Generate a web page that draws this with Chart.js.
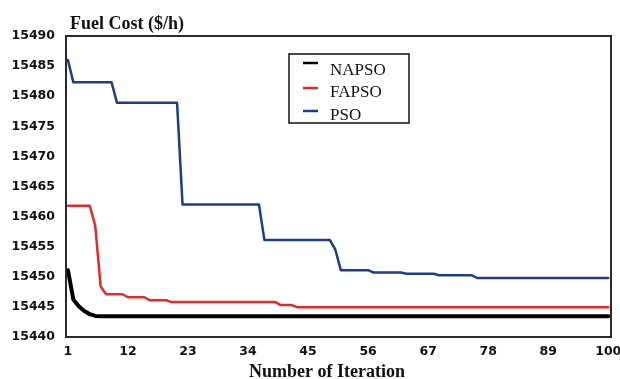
<!DOCTYPE html>
<html>
<head>
<meta charset="utf-8">
<script src="https://cdn.jsdelivr.net/npm/chart.js@4/dist/chart.umd.min.js"></script>
<style>
  html, body { margin: 0; padding: 0; background: #fff; }
  #wrap { width: 620px; height: 379px; position: relative; }
</style>
</head>
<body>
<div id="wrap"><canvas id="fuelChart" width="620" height="379"></canvas></div>
<script>
// ---------------------------
// DATA
// ---------------------------
const napsoIter = [1, 2, 3, 4, 5, 6, 7, 100];
const napsoCost = [15451.1, 15446.2, 15445.1, 15444.3, 15443.8, 15443.5, 15443.45, 15443.45];

const fapsoIter = [1, 5, 6, 7, 8, 11, 12, 15, 16, 19, 20, 39, 40, 42, 43, 100];
const fapsoCost = [15461.8, 15461.8, 15458.5, 15448.4, 15447.1, 15447.1, 15446.6, 15446.6,
                   15446.1, 15446.1, 15445.8, 15445.8, 15445.3, 15445.3, 15444.95, 15444.95];

const psoIter = [1, 2, 9, 10, 21, 22, 36, 37, 49, 50, 51, 56, 57, 62, 63, 68, 69, 75, 76, 100];
const psoCost = [15486.0, 15482.3, 15482.3, 15478.9, 15478.9, 15462.0, 15462.0, 15456.1, 15456.1,
                 15454.5, 15451.1, 15451.1, 15450.7, 15450.7, 15450.5, 15450.5, 15450.25, 15450.25,
                 15449.8, 15449.8];

const xTicks = [1, 12, 23, 34, 45, 56, 67, 78, 89, 100];
const yTicks = [15440, 15445, 15450, 15455, 15460, 15465, 15470, 15475, 15480, 15485, 15490];

const toPoints = (xs, ys) => xs.map((x, i) => ({ x: x, y: ys[i] }));

// ---------------------------
// PLUGINS: frame, titles, legend box
// ---------------------------
const framePlugin = {
  id: 'frame',
  afterDraw(chart) {
    const ctx = chart.ctx;
    const a = chart.chartArea;
    ctx.save();
    ctx.strokeStyle = '#2a2a2a';
    ctx.lineWidth = 2;
    ctx.strokeRect(a.left, a.top, a.right - a.left, a.bottom - a.top);

    // axis titles
    ctx.fillStyle = '#111';
    ctx.font = "bold 18px 'Liberation Serif', 'Times New Roman', serif";
    ctx.textBaseline = 'alphabetic';
    ctx.textAlign = 'left';
    ctx.fillText('Fuel Cost ($/h)', a.left + 4, a.top - 7);
    ctx.textAlign = 'center';
    ctx.fillText('Number of Iteration', 327, 377);

    // legend
    const bx = 289, by = 54, bw = 120, bh = 69;
    ctx.fillStyle = '#fff';
    ctx.fillRect(bx, by, bw, bh);
    ctx.strokeStyle = '#111';
    ctx.lineWidth = 1.5;
    ctx.strokeRect(bx, by, bw, bh);
    const lineRows = [9, 34, 57];
    const textRows = [21, 43, 66];
    ctx.font = "17px 'Liberation Serif', 'Times New Roman', serif";
    ctx.textAlign = 'left';
    chart.data.datasets.forEach((ds, i) => {
      const ly = by + lineRows[i];
      ctx.strokeStyle = ds.borderColor;
      ctx.lineWidth = 2.5;
      ctx.beginPath();
      ctx.moveTo(bx + 14, ly);
      ctx.lineTo(bx + 29, ly);
      ctx.stroke();
      ctx.fillStyle = '#111';
      ctx.fillText(ds.label, bx + 41, by + textRows[i]);
    });
    ctx.restore();
  }
};

// ---------------------------
// CHART
// ---------------------------
const tickFont = { family: "'DejaVu Sans', Verdana, sans-serif", size: 12.5, weight: 'bold' };

new Chart(document.getElementById('fuelChart'), {
  type: 'line',
  data: {
    datasets: [
      {
        label: 'NAPSO',
        data: toPoints(napsoIter, napsoCost),
        borderColor: '#000000',
        borderWidth: 4,
      },
      {
        label: 'FAPSO',
        data: toPoints(fapsoIter, fapsoCost),
        borderColor: '#e02b2b',
        borderWidth: 2.5,
      },
      {
        label: 'PSO',
        data: toPoints(psoIter, psoCost),
        borderColor: '#1c3c8c',
        borderWidth: 2.5,
      }
    ]
  },
  options: {
    responsive: false,
    animation: false,
    events: [],
    layout: { padding: { left: 0, right: 9, top: 36, bottom: 0 } },
    elements: {
      line: { tension: 0, borderJoinStyle: 'round', borderCapStyle: 'round' },
      point: { radius: 0 }
    },
    plugins: {
      legend: { display: false },
      tooltip: { enabled: false },
      title: { display: false }
    },
    scales: {
      x: {
        type: 'linear',
        min: 0.65,
        max: 100.5,
        grid: { display: false, drawTicks: false },
        border: { display: false },
        afterBuildTicks: (scale) => { scale.ticks = xTicks.map(v => ({ value: v })); },
        afterFit: (scale) => {
          scale.height = 42;
          scale.paddingLeft = 0;
          scale.paddingRight = 0;
        },
        ticks: {
          color: '#111',
          font: tickFont,
          padding: 7,
          maxRotation: 0,
          autoSkip: false,
          callback: (v) => String(v)
        }
      },
      y: {
        type: 'linear',
        min: 15440,
        max: 15490,
        grid: { display: false, drawTicks: false },
        border: { display: false },
        afterBuildTicks: (scale) => { scale.ticks = yTicks.map(v => ({ value: v })); },
        afterFit: (scale) => {
          scale.width = 66;
          scale.paddingTop = 0;
          scale.paddingBottom = 0;
        },
        ticks: {
          color: '#111',
          font: tickFont,
          padding: 11,
          callback: (v) => String(v)
        }
      }
    }
  },
  plugins: [framePlugin]
});
</script>
</body>
</html>
